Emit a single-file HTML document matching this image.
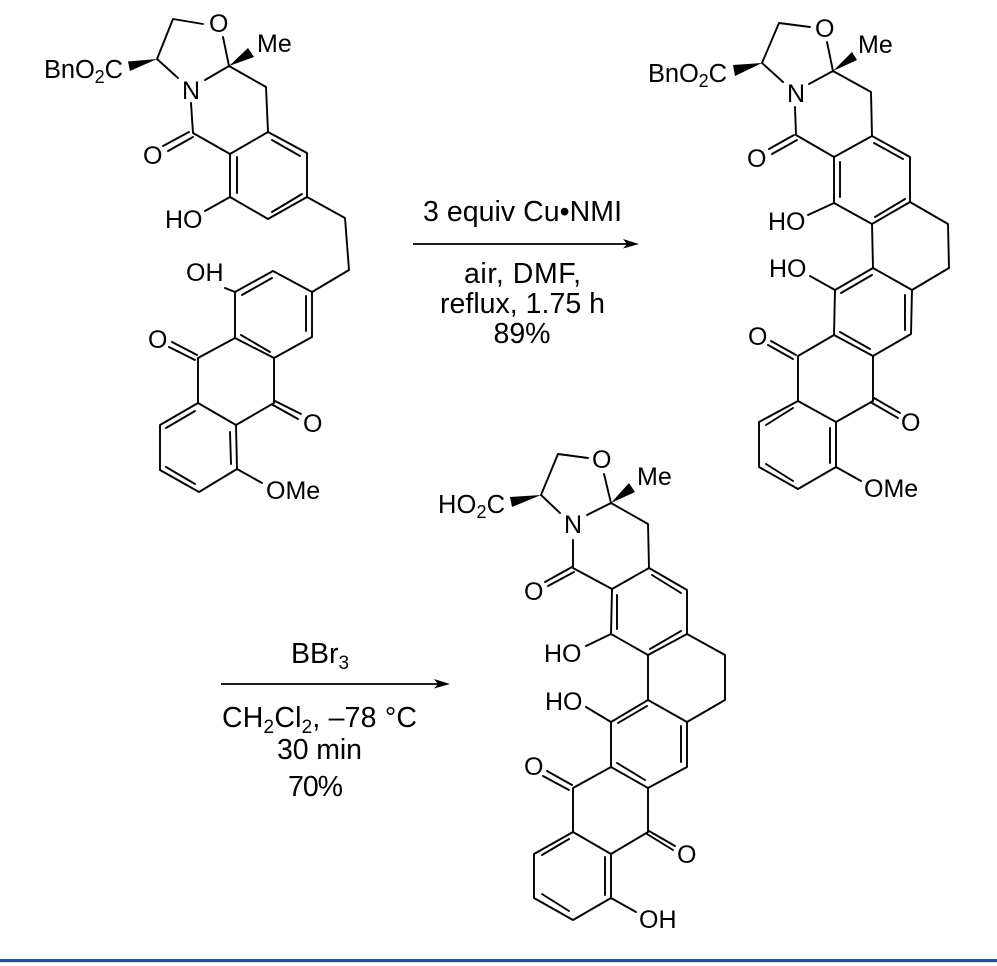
<!DOCTYPE html>
<html>
<head>
<meta charset="utf-8">
<style>
html,body{margin:0;padding:0;background:#fff;width:997px;height:966px;overflow:hidden}
svg{display:block}
text{font-family:"Liberation Sans",Arial,sans-serif;fill:#000;font-size:25px}
.r{font-size:28.5px}
.b{fill:none;stroke:#000;stroke-width:1.9;stroke-linecap:round;stroke-linejoin:round}
.a{fill:none;stroke:#000;stroke-width:1.7}
</style>
</head>
<body>
<svg width="997" height="966" viewBox="0 0 997 966" xmlns="http://www.w3.org/2000/svg">
<rect width="997" height="966" fill="#fff"/>
<rect x="0" y="959" width="997" height="3.2" fill="#2a5298"/>

<!-- Structure 1 -->
<path class="b" d="M157 59L173 19L203 24M223 37L229 66L205 80M157 59L178 78M229 66L266 87L268 132M191 103L193 133L230 154L268 132L307 153L307 197L268 219L230 197L230 154M272 140L300 156M237 157L237 193M272 212L302 194M189 132L163 146M193 137L168 151M230 197L205 211M307 197L345 218L349 270L312 292L273 271L235 292L235 338L274 358L312 337L312 292M272 278L242 295M306 296L306 331M241 335L270 352M235 292L225 288M235 338L198 358L198 403L236 425L274 403L274 358M197 355L172 342M195 360L169 347M275 401L301 414M273 405L298 419M198 403L160 425L160 470L199 492L237 469L236 425M195 411L166 428M230 432L231 464M166 467L195 484M237 469L262 483"/>
<polygon points="157,59 128,61.5 130,71" fill="#000"/>
<polygon points="229,66 248,48 254,57" fill="#000"/>
<text x="44" y="78" textLength="79" font-size="25.5" style="font-size:25.5px">BnO<tspan style="font-size:18px" dy="5">2</tspan><tspan dy="-5">C</tspan></text>
<text x="209" y="32">O</text>
<text x="257" y="52">Me</text>
<text x="182" y="99">N</text>
<text x="143" y="164">O</text>
<text x="165" y="228">HO</text>
<text x="186" y="281">OH</text>
<text x="148" y="348">O</text>
<text x="303" y="432">O</text>
<text x="266" y="499">OMe</text>

<!-- Structure 2 -->
<path class="b" d="M762 63L779 23L810 27M827 42L833 71L809 84M762 63L783 82M795 107L796 135L834 157L872 136L910 157L910 202L872 224L834 203L834 157M833 71L871 92L872 136M874 143L903 159M840 162L840 197M875 217L905 199M794 135L769 149M797 140L772 154M834 203L808 215M910 202L948 224L949 268L912 290L873 268L835 290L834 335L873 356L911 334L912 290M872 224L873 268M872 275L841 293M905 295L905 330M840 332L870 349M835 290L810 276M834 335L798 356L798 401L836 422L873 401L873 356M796 355L771 341M793 359L768 345M874 398L900 413M872 403L898 418M798 401L759 422L759 467L798 489L836 467L836 422M793 408L766 425M830 428L830 463M766 464L793 481M836 467L861 481"/>
<polygon points="762,63 733,65 735,76" fill="#000"/>
<polygon points="833,71 852,52 857,60" fill="#000"/>
<text x="648" y="82" textLength="79" style="font-size:25.5px">BnO<tspan style="font-size:18px" dy="5">2</tspan><tspan dy="-5">C</tspan></text>
<text x="815" y="37">O</text>
<text x="858" y="53">Me</text>
<text x="787" y="102">N</text>
<text x="747" y="167">O</text>
<text x="768" y="230">HO</text>
<text x="769" y="277">HO</text>
<text x="748" y="345">O</text>
<text x="901" y="431">O</text>
<text x="864" y="497">OMe</text>

<!-- Structure 3 -->
<path class="b" d="M541 495L558 454L588 458M604 474L611 503L587 515M541 495L560 513M573 540L573 568L612 589L649 568L687 590L687 634L648 655L611 634L612 589M611 503L648 524L649 568M652 575L681 593M617 595L617 629M650 649L681 631M572 567L545 582M574 572L548 586M611 634L586 646M687 634L725 655L725 700L687 722L648 700L611 722L611 767L648 788L687 767L687 722M648 655L648 700M647 706L618 723M681 726L681 762M617 763L645 780M611 722L586 707M611 767L573 788L573 832L611 854L648 832L648 788M572 785L547 771M569 790L543 776M649 831L675 846M647 834L673 850M573 832L534 854L534 898L573 920L611 898L611 854M569 839L542 855M605 857L605 895M542 894L569 911M611 898L636 912"/>
<polygon points="541,495 510,497 512,507" fill="#000"/>
<polygon points="611,503 629,483 635,492" fill="#000"/>
<text x="438" y="513" textLength="67" style="font-size:25.5px">HO<tspan style="font-size:18px" dy="5">2</tspan><tspan dy="-5">C</tspan></text>
<text x="592" y="468">O</text>
<text x="637" y="485">Me</text>
<text x="564" y="533">N</text>
<text x="524" y="600">O</text>
<text x="544" y="662">HO</text>
<text x="545" y="710">HO</text>
<text x="524" y="775">O</text>
<text x="677" y="863">O</text>
<text x="639" y="928">OH</text>

<!-- Arrow 1 -->
<line class="a" x1="413" y1="244" x2="627" y2="244"/>
<polygon points="639,244 623,239 627,244 623,248.5" fill="#000"/>
<text class="r" x="423" y="221" textLength="199">3 equiv Cu•NMI</text>
<text class="r" x="464" y="283" textLength="117">air, DMF,</text>
<text class="r" x="440" y="313" textLength="165">reflux, 1.75 h</text>
<text class="r" x="522" y="343" text-anchor="middle">89%</text>

<!-- Arrow 2 -->
<line class="a" x1="221" y1="684" x2="438" y2="684"/>
<polygon points="450,684 434,679 438,684 434,688.5" fill="#000"/>
<text class="r" x="291" y="663">BBr<tspan style="font-size:19px" dy="6">3</tspan></text>
<text class="r" x="222" y="727" textLength="195">CH<tspan style="font-size:19px" dy="6">2</tspan><tspan dy="-6">Cl</tspan><tspan style="font-size:19px" dy="6">2</tspan><tspan dy="-6">, –78 °C</tspan></text>
<text class="r" x="277" y="759" textLength="85">30 min</text>
<text class="r" x="288" y="796" textLength="55">70%</text>
</svg>
</body>
</html>
